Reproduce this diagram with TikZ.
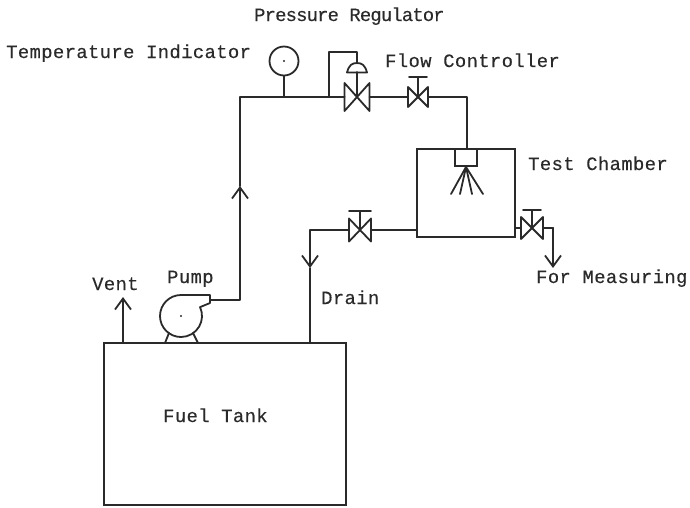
\documentclass[tikz,border=0pt]{standalone}
\usepackage{fontspec}
\newfontfamily\lblfont[LetterSpace=2.2,FakeBold=0.35]{Liberation Mono}
\newfontfamily\lblnarrow[LetterSpace=-4.2,FakeBold=0.35]{Liberation Mono}
\usetikzlibrary{arrows.meta}
\definecolor{ink}{HTML}{2A2A2A}
\tikzset{
  pipe/.style={draw=ink,line width=2pt,line join=round,line cap=round},
  thin pipe/.style={draw=ink,line width=1.8pt,line join=round,line cap=round},
  lbl/.style={inner sep=0pt,anchor=base west,text=ink,font=\lblfont\fontsize{18.8}{20}\selectfont},
  lblp/.style={lbl,font=\lblnarrow\fontsize{18.8}{20}\selectfont},
  barb/.style={-{Straight Barb[length=11pt,width=16pt,line width=1.8pt]}},
  vessel/.style={draw=ink,line width=2pt,inner sep=0pt,minimum width=#1},
  pics/valve/.style={code={
    \draw[thin pipe] (-1,-1)--(-1,1)--(1,-1)--(1,1)--cycle;
    \coordinate (-l) at (-1,0);
    \coordinate (-r) at (1,0);
    \coordinate (-c) at (0,0);
  }}
}
\begin{document}
\begin{tikzpicture}[x=1pt,y=-1pt]
\useasboundingbox (0,0) rectangle (690,507);
% vessels
\node[vessel=242pt,minimum height=162pt] (tank) at (225,424) {};
\node[vessel=98pt,minimum height=88pt] (chamber) at (466,193) {};
\node[vessel=22pt,minimum height=17pt,line width=1.8pt] (nozzle) at (466,157.5) {};
% gauge
\node[circle,draw=ink,line width=1.8pt,minimum size=29pt,inner sep=0pt] (gauge) at (284,61) {};
\fill[ink] (gauge.center) circle (1.2pt);
% valves
\pic[xscale=12.5,yscale=14] (pr) at (357,97) {valve};
\pic[xscale=10,yscale=10] (fc) at (418,97) {valve};
\pic[xscale=11,yscale=11.5] (dv) at (360,230) {valve};
\pic[xscale=11,yscale=11] (mv) at (532,228) {valve};
% valve handles
\draw[thin pipe] (fc-c) -- (418,77) coordinate (fch);
\draw[thin pipe] (409,77) -- (427,77);
\draw[thin pipe] (dv-c) -- (360,211);
\draw[thin pipe] (349,211) -- (371,211);
\draw[thin pipe] (mv-c) -- (532,210);
\draw[thin pipe] (523,210) -- (541,210);
% regulator actuator
\draw[thin pipe] (pr-c) -- (357,72) coordinate (prs);
\draw[thin pipe] (347,72.5) .. controls (349,65) and (352,63) .. (357,63) .. controls (362,63) and (365,65) .. (367,72.5) -- cycle;
% points
\coordinate (pumpout) at (210,300);
\coordinate (up) at (240,186);
\coordinate (corner1) at (240,97);
\coordinate (tee) at (329,97);
\coordinate (gtee) at (284,97);
\coordinate (drainarrow) at (310,268);
\coordinate (draincorner) at (310,230);
\coordinate (draintank) at (310,343);
\coordinate (ventbase) at (123,343);
\coordinate (venttip) at (123,297);
\coordinate (mcorner) at (553,228);
\coordinate (mtip) at (553,268);
\coordinate (fccorner) at (467,97);
\coordinate (prtop) at (357,63);
% pipes
\draw[pipe] (gauge.south) -- (gtee);
\draw[pipe,barb] (pumpout) -| (up);
\draw[pipe] (up) -- (corner1) -- (pr-l);
\draw[pipe] (tee) -- (329,52) -- (357,52) -- (prtop);
\draw[pipe] (pr-r) -- (fc-l);
\draw[pipe] (fc-r) -- (fccorner) -- (nozzle.north-|fccorner);
\draw[pipe] (chamber.west|-dv-r) -- (dv-r);
\draw[pipe] (dv-l) -- (draincorner);
\draw[pipe,barb] (draincorner) -- (drainarrow);
\draw[pipe] (drainarrow) -- (draintank);
\draw[pipe] (chamber.east|-mv-l) -- (mv-l);
\draw[pipe] (mv-r) -- (mcorner);
\draw[pipe,barb] (mcorner) -- (mtip);
\draw[pipe,barb] (ventbase) -- (venttip);
% spray
\coordinate (sp) at (466,167);
\draw[thin pipe] (sp) -- (451,194);
\draw[thin pipe] (sp) -- (460,194);
\draw[thin pipe] (sp) -- (472,194);
\draw[thin pipe] (sp) -- (483,194);
% pump
\node[circle,minimum size=42pt,inner sep=0pt] (pump) at (181,316) {};
\draw[thin pipe] (pump.center) ++(0,-21) coordinate (ptop) arc[start angle=-90,end angle=-385,radius=21] coordinate (pend);
\draw[thin pipe] (ptop) -- (210,295) -- (210,303) -- (pend);
\fill[ink] (pump.center) circle (1.2pt);
\draw[thin pipe] (169,333) -- (165,343);
\draw[thin pipe] (193,333) -- (198,343);
% labels
\node[lblp] (t1) at (254,21) {Pressure Regulator};
\node[lbl] (t2) at (6,58) {Temperature Indicator};
\node[lbl] (t3) at (385,67) {Flow Controller};
\node[lbl] (t4) at (528,170) {Test Chamber};
\node[lbl] (t5) at (536,283) {For Measuring};
\node[lbl] (t6) at (321,304) {Drain};
\node[lbl] (t7) at (167,283) {Pump};
\node[lbl] (t8) at (92,290) {Vent};
\node[lbl] (t9) at (163,422) {Fuel Tank};
\end{tikzpicture}
\end{document}
